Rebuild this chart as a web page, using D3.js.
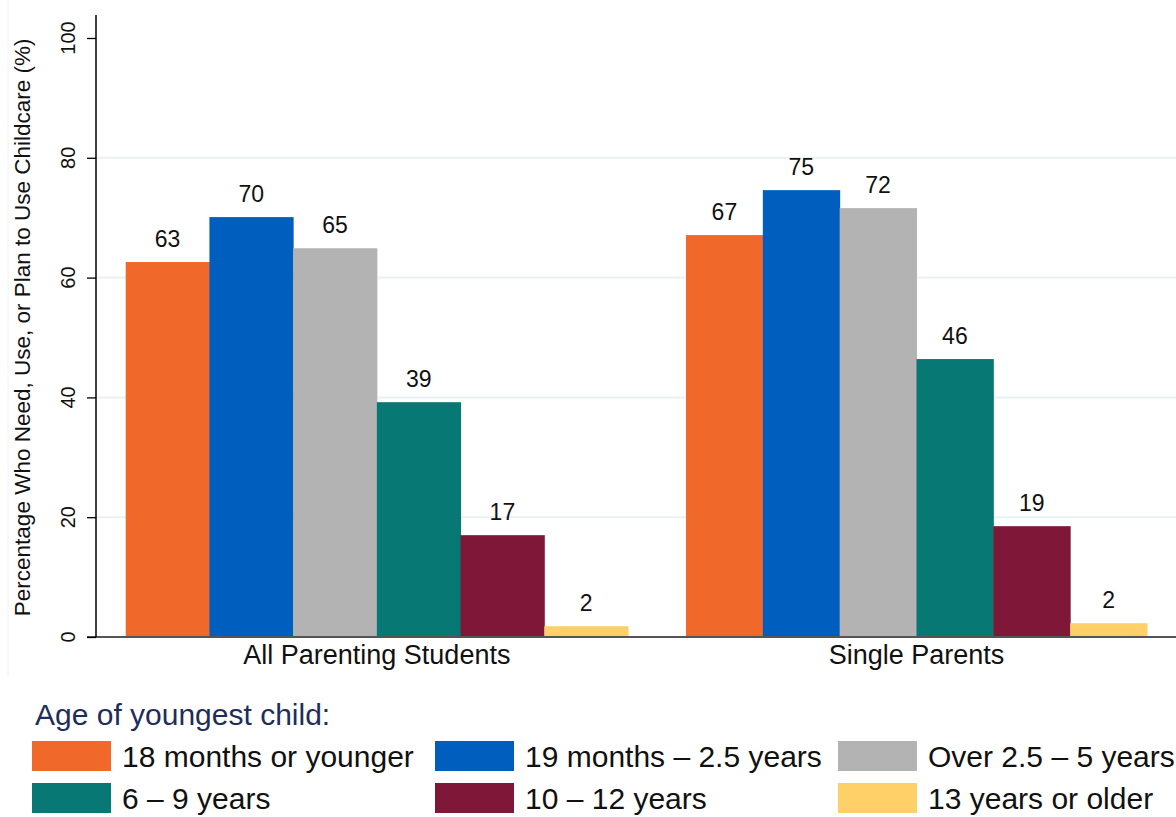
<!DOCTYPE html>
<html>
<head>
<meta charset="utf-8">
<script src="https://d3js.org/d3.v7.min.js"></script>
<style>
  body { margin: 0; background: #fff; }
  svg { display: block; font-family: "Liberation Sans", Arial, Helvetica, sans-serif; }
</style>
</head>
<body>
<div id="container"></div>
<script>
// the data
let groups = ["All Parenting Students", "Single Parents"];
let ageBands = ["18 months or younger", "19 months \u2013 2.5 years", "Over 2.5 \u2013 5 years",
                "6 \u2013 9 years", "10 \u2013 12 years", "13 years or older"];
let allStudents = [62.6, 70.1, 64.9, 39.2, 17.0, 1.8];
let singleParents = [67.1, 74.6, 71.6, 46.4, 18.5, 2.3];
let valueLabels = [[63, 70, 65, 39, 17, 2], [67, 75, 72, 46, 19, 2]];
let yTicks = [0, 20, 40, 60, 80, 100];
let colors = ["#F0692A", "#005EBF", "#B3B3B3", "#077874", "#7E1738", "#FED067"];

let seriesValues = [allStudents, singleParents];

// global sizes
let w = 1176;
let h = 817;
let axisX = 96;
let baseY = 637;

let viz = d3.select("#container")
  .append("svg")
    .attr("width", w)
    .attr("height", h)
;

// faint outline of the plot region
viz.append("line")
  .attr("x1", 8).attr("x2", 8)
  .attr("y1", 0).attr("y2", 677)
  .attr("stroke", "#f2f2f2")
  .attr("stroke-width", 1);

// Y SCALE
let yScale = d3.scaleLinear().domain([0, 100]).range([baseY, 38]);

// gridlines (no line at 0 or 100)
viz.append("g").classed("grid", true)
  .selectAll("line")
  .data(yTicks.filter(function(d){ return d > 0 && d < 100; }))
  .enter()
  .append("line")
    .attr("x1", axisX)
    .attr("x2", w)
    .attr("y1", function(d){ return yScale(d); })
    .attr("y2", function(d){ return yScale(d); })
    .attr("stroke", "#eaf1f3")
    .attr("stroke-width", 2)
;

// X SCALES: the two groups sit in slightly different widths
let groupRanges = [[125.7, 628], [686, 1147]];
let innerScales = groupRanges.map(function(r){
  return d3.scaleBand().domain(d3.range(ageBands.length)).range(r).paddingInner(0);
});

// bars
let barData = [];
seriesValues.forEach(function(vals, g){
  vals.forEach(function(v, i){
    barData.push({group: g, idx: i, value: v, label: valueLabels[g][i]});
  });
});

let graphGroup = viz.append("g").classed("graphGroup", true);

let datapoints = graphGroup.selectAll(".datapoint").data(barData).enter()
  .append("g")
    .classed("datapoint", true)
    .attr("transform", function(d){
      return "translate(" + innerScales[d.group](d.idx) + ",0)";
    })
;
datapoints.append("rect")
  .attr("x", 0)
  .attr("y", function(d){ return yScale(d.value); })
  .attr("width", function(d){ return innerScales[d.group].bandwidth() + 0.5; })
  .attr("height", function(d){ return baseY - yScale(d.value); })
  .attr("fill", function(d){ return colors[d.idx]; })
;
datapoints.append("text")
  .attr("x", function(d){ return innerScales[d.group].bandwidth() / 2; })
  .attr("y", function(d){ return yScale(d.value) - 15; })
  .attr("text-anchor", "middle")
  .attr("font-size", 23)
  .attr("fill", "#111")
  .text(function(d){ return d.label; })
;

// x axis line
viz.append("line")
  .attr("x1", 87).attr("x2", w)
  .attr("y1", baseY).attr("y2", baseY)
  .attr("stroke", "#555")
  .attr("stroke-width", 2);

// y axis
let yAxis = d3.axisLeft(yScale).tickValues(yTicks).tickSize(9).tickFormat("");
let yAxisGroup = viz.append("g")
  .attr("transform", "translate(" + axisX + ",0)")
  .call(yAxis);
yAxisGroup.select(".domain").remove();
yAxisGroup.selectAll("line").attr("stroke", "#000").attr("stroke-width", 1.3);
yAxisGroup.append("line")
  .attr("x1", 0).attr("x2", 0)
  .attr("y1", 15).attr("y2", baseY)
  .attr("stroke", "#000")
  .attr("stroke-width", 1.5);

// rotated tick labels
viz.append("g").selectAll("text")
  .data(yTicks)
  .enter()
  .append("text")
    .attr("transform", function(d){ return "translate(75," + yScale(d) + ") rotate(-90)"; })
    .attr("text-anchor", "middle")
    .attr("font-size", 20)
    .attr("fill", "#111")
    .text(function(d){ return d; })
;

// y axis title
viz.append("text")
  .attr("transform", "translate(30," + yScale(51.7) + ") rotate(-90)")
  .attr("text-anchor", "middle")
  .attr("font-size", 22.5)
  .attr("fill", "#111")
  .text("Percentage Who Need, Use, or Plan to Use Childcare (%)");

// category labels
viz.append("g").selectAll("text")
  .data(groups)
  .enter()
  .append("text")
    .attr("x", function(d, i){ return (groupRanges[i][0] + groupRanges[i][1]) / 2; })
    .attr("y", 664)
    .attr("text-anchor", "middle")
    .attr("font-size", 27)
    .attr("fill", "#111")
    .text(function(d){ return d; })
;

// LEGEND
viz.append("text")
  .attr("x", 35)
  .attr("y", 725)
  .attr("font-size", 30)
  .attr("fill", "#1f2d5c")
  .text("Age of youngest child:");

let legendCols = [32, 435, 838];
let legendRows = [741, 783];
let legendItems = viz.append("g").classed("legend", true)
  .selectAll("g")
  .data(ageBands)
  .enter()
  .append("g")
    .attr("transform", function(d, i){
      return "translate(" + legendCols[i % 3] + "," + legendRows[Math.floor(i / 3)] + ")";
    })
;
legendItems.append("rect")
  .attr("width", 79)
  .attr("height", 30)
  .attr("fill", function(d, i){ return colors[i]; });
legendItems.append("text")
  .attr("x", 90)
  .attr("y", 26)
  .attr("font-size", 30)
  .attr("fill", "#111")
  .text(function(d){ return d; });
</script>
</body>
</html>
